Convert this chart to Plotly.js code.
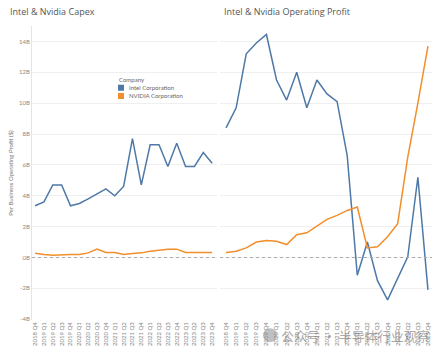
<!DOCTYPE html>
<html>
<head>
<meta charset="utf-8">
<script src="https://cdn.plot.ly/plotly-3.0.1.min.js"></script>
<style>html,body{margin:0;padding:0;background:#fff;}#chart{width:439px;height:350px;}</style>
</head>
<body>
<div id="chart"></div>
<script>
// Quarters (x categories)
var quarters = ["2018 Q4","2019 Q1","2019 Q2","2019 Q3","2019 Q4","2020 Q1","2020 Q2","2020 Q3","2020 Q4","2021 Q1","2021 Q2","2021 Q3","2021 Q4","2022 Q1","2022 Q2","2022 Q3","2022 Q4","2023 Q1","2023 Q2","2023 Q3","2023 Q4"];
// Capex (billions)
var intelCapex  = [3.35,3.6,4.7,4.7,3.35,3.5,3.8,4.1,4.45,4.0,4.6,7.7,4.7,7.3,7.3,5.9,7.4,5.9,5.9,6.8,6.1];
var nvidiaCapex = [0.28,0.19,0.15,0.15,0.19,0.2,0.3,0.54,0.32,0.32,0.2,0.26,0.3,0.4,0.45,0.54,0.54,0.32,0.32,0.32,0.32];
// Operating profit (billions)
var intelOpProfit  = [8.4,9.7,13.2,13.9,14.45,11.5,10.2,12.0,9.7,11.5,10.6,10.1,6.6,-1.15,1.0,-1.5,-2.75,-1.3,0.05,5.2,-2.1];
var nvidiaOpProfit = [0.32,0.4,0.62,1.0,1.1,1.05,0.84,1.48,1.6,2.04,2.47,2.73,3.05,3.27,0.62,0.69,1.34,2.19,6.5,10.0,13.7];
// Y ticks
var yTickVals = [-4,-2,0,2,4,6,8,10,12,14];
var yTickText = ["-4B","-2B","0B","2B","4B","6B","8B","10B","12B","14B"];
var companies = ["Intel Corporation","NVIDIA Corporation"];
var legendTitle = "Company";

var colors = ["#4e79a7", "#f28e2b"];
var FONT = "Lato, 'Open Sans', sans-serif";

var traces = [
  {x: quarters, y: intelCapex, xaxis:"x", yaxis:"y", mode:"lines", name:companies[0], line:{color:colors[0], width:1.5}},
  {x: quarters, y: nvidiaCapex, xaxis:"x", yaxis:"y", mode:"lines", name:companies[1], line:{color:colors[1], width:1.5}},
  {x: quarters, y: intelOpProfit, xaxis:"x2", yaxis:"y2", mode:"lines", name:companies[0], line:{color:colors[0], width:1.5}},
  {x: quarters, y: nvidiaOpProfit, xaxis:"x2", yaxis:"y2", mode:"lines", name:companies[1], line:{color:colors[1], width:1.5}}
];

var yRange = [-4.05, 15.0];
var xCommon = {type:"category", tickangle:-90, showgrid:false, zeroline:false, showline:false, ticks:"",
  tickfont:{family:FONT, size:6, color:"#888"}, ticklen:0};
var yCommon = {range:yRange, tickvals:yTickVals, ticktext:yTickText, showgrid:true, gridcolor:"#efefef", gridwidth:1,
  zeroline:false, ticks:"", tickfont:{family:FONT, size:6, color:"#888"}};

// manual compact legend (Tableau style)
var legX = 0.215, legTitleY = 0.818, legStep = 0.028, sq = 0.015, sqY = 0.0205;
var shapes = [
  {type:"line", xref:"x domain", yref:"y", x0:0, x1:1, y0:0, y1:0, line:{color:"#aaa", width:1, dash:"dot"}},
  {type:"line", xref:"x2 domain", yref:"y2", x0:0, x1:1, y0:0, y1:0, line:{color:"#aaa", width:1, dash:"dot"}},
  {type:"circle", xref:"paper", yref:"paper", x0:0.5775, x1:0.6125, y0:-0.076, y1:-0.028, fillcolor:"rgba(140,140,140,0.55)", line:{width:0}}
];
var annotations = [
  {text:"Intel & Nvidia Capex", xref:"paper", yref:"paper", x:-0.06, y:1.05, xanchor:"left", yanchor:"middle", showarrow:false,
    font:{family:"'Open Sans', sans-serif", size:9, color:"#555"}},
  {text:"Intel & Nvidia Operating Profit", xref:"paper", yref:"paper", x:0.475, y:1.05, xanchor:"left", yanchor:"middle", showarrow:false,
    font:{family:"'Open Sans', sans-serif", size:9, color:"#555"}},
  {text:legendTitle, xref:"paper", yref:"paper", x:legX-0.003, y:legTitleY, xanchor:"left", yanchor:"middle", showarrow:false,
    font:{family:FONT, size:6, color:"#666"}},
  {text:"公众号 · 半导体行业观察", xref:"paper", yref:"paper", x:0.618, y:-0.052, xanchor:"left", yanchor:"middle", showarrow:false,
    font:{family:"'Noto Sans CJK SC', sans-serif", size:13, color:"rgba(110,110,110,0.6)"}}
];
companies.forEach(function(c, i){
  var cy = legTitleY - legStep*(i+1);
  shapes.push({type:"rect", xref:"paper", yref:"paper", x0:legX, x1:legX+sq, y0:cy-sqY/2, y1:cy+sqY/2, fillcolor:colors[i], line:{width:0}});
  annotations.push({text:c, xref:"paper", yref:"paper", x:legX+sq+0.008, y:cy, xanchor:"left", yanchor:"middle", showarrow:false,
    font:{family:FONT, size:6, color:"#666"}});
});

var layout = {
  width:439, height:350,
  margin:{l:32, r:7, t:26, b:30},
  paper_bgcolor:"#fff", plot_bgcolor:"#fff",
  showlegend:false,
  xaxis: Object.assign({}, xCommon, {domain:[0,0.4625], range:[-0.35,20.55], anchor:"y"}),
  xaxis2: Object.assign({}, xCommon, {domain:[0.47,1], range:[-0.6,20.4], anchor:"y2"}),
  yaxis: Object.assign({}, yCommon, {anchor:"x", showline:true, linecolor:"#e4e4e4", linewidth:1,
    title:{text:"Per Business Operating Profit ($)", font:{family:FONT, size:6, color:"#777"}, standoff:4}}),
  yaxis2: Object.assign({}, yCommon, {anchor:"x2", showticklabels:false}),
  shapes: shapes,
  annotations: annotations
};

Plotly.newPlot("chart", traces, layout, {displayModeBar:false, staticPlot:true});
</script>
</body>
</html>
